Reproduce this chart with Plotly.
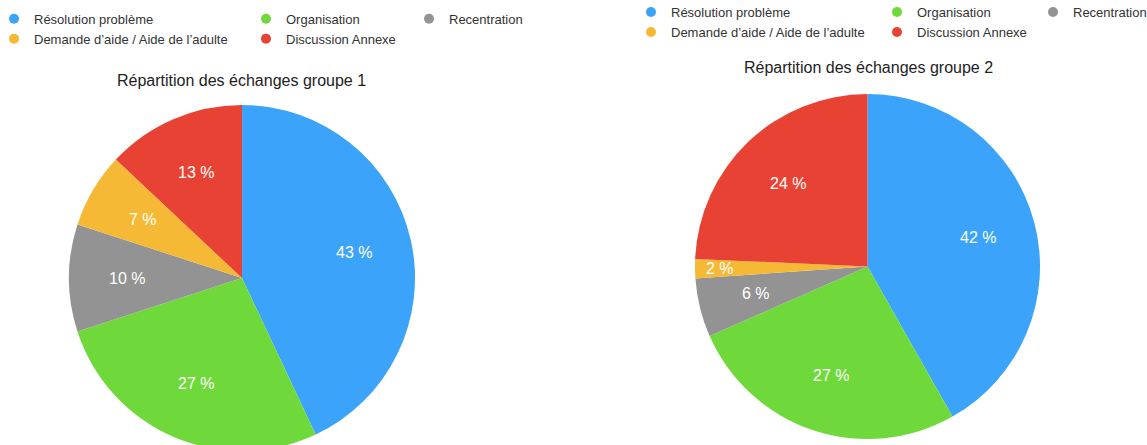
import plotly.graph_objects as go
import math

# ---------------- data ----------------
CATEGORIES = [
    "Résolution problème",
    "Organisation",
    "Recentration",
    "Demande d’aide / Aide de l’adulte",
    "Discussion Annexe",
]
# shares in % (labels show them rounded)
GROUP1_VALUES = [43, 27, 10, 7, 13]
GROUP2_VALUES = [41.8, 26.6, 5.5, 1.8, 24.3]
TITLES = ["Répartition des échanges groupe 1", "Répartition des échanges groupe 2"]

# ---------------- style ----------------
COLORS = ["#3BA3F9", "#6FD93B", "#939393", "#F6B935", "#E84235"]
FONT = "Liberation Sans, Arial, Helvetica, sans-serif"
W, H = 1147, 452   # the page shows the top 445 px; the first pie is cut at the bottom as in the reference

# pixel geometry of each pie panel (layout, not data)
PANELS = [
    dict(cx=242, cy=278, r=173, tx=241.7, ty=80.7,
         legend_cols=[-6, 246, 409], legend_top=3.8,
         label_r=[0.665, 0.665, 0.665, 0.665, 0.665]),
    dict(cx=867.5, cy=266.5, r=172.5, tx=868, ty=67.3,
         legend_cols=[631, 877, 1033], legend_top=-2.9,
         label_r=[0.665, 0.665, 0.665, 0.855, 0.665]),
]
COLUMNS = [[0, 3], [1, 4], [2]]

fig = go.Figure()
layout_extra = {}
annotations = []

for p, (vals, panel) in enumerate(zip([GROUP1_VALUES, GROUP2_VALUES], PANELS)):
    dx = [(panel["cx"] - panel["r"]) / W, (panel["cx"] + panel["r"]) / W]
    dy = [1 - (panel["cy"] + panel["r"]) / H, 1 - (panel["cy"] - panel["r"]) / H]
    dy = [max(0.0, dy[0]), min(1.0, dy[1])]

    fig.add_trace(go.Pie(
        values=vals, labels=CATEGORIES, sort=False, direction="clockwise",
        rotation=0, textinfo="none", showlegend=False,
        marker=dict(colors=COLORS, line=dict(width=0)),
        domain=dict(x=dx, y=dy), hoverinfo="label+percent",
    ))

    # hidden axes sharing the pie's square domain: unit = pie radius
    sfx = "" if p == 0 else str(p + 1)
    layout_extra["xaxis" + sfx] = dict(domain=dx, range=[-1, 1], visible=False,
                                       anchor="y" + sfx, fixedrange=True)
    layout_extra["yaxis" + sfx] = dict(domain=dy, range=[-1, 1], visible=False,
                                       anchor="x" + sfx, fixedrange=True)

    # legends: one vertical legend per column
    for c, idxs in enumerate(COLUMNS):
        lname = "legend" if (p == 0 and c == 0) else "legend%d" % (p * 3 + c + 1)
        for i in idxs:
            fig.add_trace(go.Scatter(
                x=[None], y=[None], mode="markers", name=CATEGORIES[i],
                marker=dict(size=10, color=COLORS[i]), legend=lname,
                xaxis="x" + sfx, yaxis="y" + sfx, showlegend=True, hoverinfo="skip",
            ))
        layout_extra[lname] = dict(
            orientation="v", x=panel["legend_cols"][c] / W, xanchor="left",
            y=1 - panel["legend_top"] / H, yanchor="top",
            bgcolor="rgba(0,0,0,0)", borderwidth=0, itemwidth=30,
            tracegroupgap=0, traceorder="normal",
            font=dict(family=FONT, size=13, color="#333333"),
        )

    # percentage labels at mid-angle of each slice (derived from the values)
    total = sum(vals)
    cum = 0
    for i, v in enumerate(vals):
        mid = (cum + v / 2) / total * 2 * math.pi
        cum += v
        rr = panel["label_r"][i]
        annotations.append(dict(
            x=rr * math.sin(mid), y=rr * math.cos(mid),
            xref="x" + sfx, yref="y" + sfx,
            text="%.0f %%" % (100.0 * v / total), showarrow=False,
            xanchor="center", yanchor="middle",
            font=dict(family=FONT, size=16, color="white"),
        ))

    annotations.append(dict(
        x=panel["tx"] / W, y=1 - panel["ty"] / H, xref="paper", yref="paper",
        text=TITLES[p], showarrow=False, xanchor="center", yanchor="middle",
        font=dict(family=FONT, size=16, color="#222222"),
    ))

fig.update_layout(
    width=W, height=H,
    margin=dict(l=0, r=0, t=0, b=0, pad=0, autoexpand=False),
    paper_bgcolor="white", plot_bgcolor="white",
    font=dict(family=FONT, color="#333333"),
    annotations=annotations,
    **layout_extra,
)

fig.write_html(
    "out.html",
    config={"displayModeBar": False},
    post_script=(
        "document.body.style.margin='0px';"
        "document.body.style.overflow='hidden';"
        "document.documentElement.style.overflow='hidden';"
    ),
)
